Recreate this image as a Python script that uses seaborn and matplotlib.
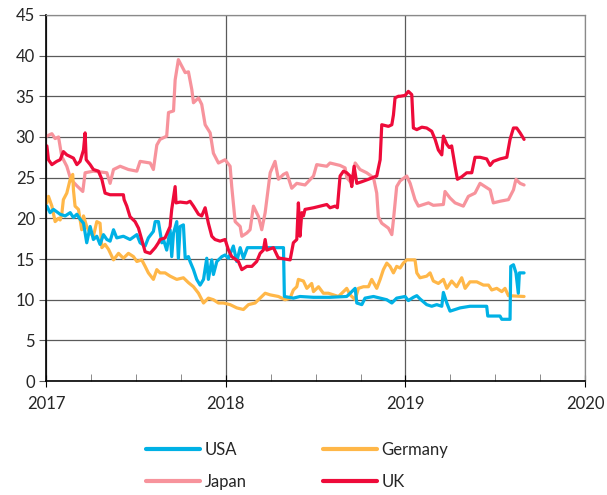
#!/usr/bin/env python3
# -*- coding: utf-8 -*-
import numpy as np
import pandas as pd
import seaborn as sns
import matplotlib
matplotlib.use('Agg')
import matplotlib.pyplot as plt
from matplotlib.ticker import MultipleLocator
from matplotlib.lines import Line2D

#------------------------------------------------------------------------------
# Data (time in decimal years)
#------------------------------------------------------------------------------
usa_t = [2017.004, 2017.022, 2017.041, 2017.078, 2017.106, 2017.134, 2017.152, 2017.171, 2017.189, 2017.208,
         2017.226, 2017.245, 2017.263, 2017.282, 2017.300, 2017.319, 2017.338, 2017.356, 2017.375, 2017.393,
         2017.430, 2017.467, 2017.505, 2017.523, 2017.551, 2017.569, 2017.597, 2017.607, 2017.625, 2017.644,
         2017.653, 2017.671, 2017.690, 2017.699, 2017.709, 2017.727, 2017.736, 2017.746, 2017.764, 2017.774,
         2017.792, 2017.801, 2017.820, 2017.838, 2017.857, 2017.876, 2017.894, 2017.903, 2017.922, 2017.931,
         2017.950, 2017.978, 2017.996, 2018.015, 2018.042, 2018.061, 2018.080, 2018.098, 2018.120, 2018.321,
         2018.326, 2018.376, 2018.413, 2018.488, 2018.580, 2018.673, 2018.720, 2018.729, 2018.757, 2018.775,
         2018.822, 2018.859, 2018.896, 2018.924, 2018.951, 2018.998, 2019.016, 2019.044, 2019.063, 2019.081,
         2019.118, 2019.146, 2019.174, 2019.202, 2019.211, 2019.230, 2019.248, 2019.276, 2019.304, 2019.359,
         2019.452, 2019.458, 2019.526, 2019.536, 2019.582, 2019.586, 2019.601, 2019.615, 2019.628, 2019.634,
         2019.660]
usa_v = [21.5, 20.7, 21.1, 20.5, 20.3, 20.7, 20.1, 20.5, 19.9, 19.4,
         17.0, 19.0, 17.4, 17.8, 16.8, 18.0, 17.4, 17.2, 18.6, 17.6,
         17.8, 17.4, 18.0, 17.0, 16.6, 17.6, 18.4, 19.6, 19.6, 17.0,
         17.4, 16.1, 18.6, 15.3, 18.2, 19.6, 15.1, 19.0, 19.2, 15.1,
         15.3, 14.7, 13.7, 12.5, 11.8, 12.5, 15.1, 12.5, 14.9, 13.1,
         14.7, 15.3, 15.5, 15.1, 16.6, 14.7, 16.4, 15.1, 16.4, 16.4,
         10.4, 10.2, 10.4, 10.3, 10.3, 10.4, 11.4, 9.6, 9.4, 10.2,
         10.4, 10.2, 10.0, 9.6, 10.2, 10.4, 9.9, 10.3, 10.5, 10.1,
         9.4, 9.2, 9.4, 9.2, 10.9, 9.6, 8.6, 8.8, 9.0, 9.2,
         9.2, 8.0, 8.0, 7.6, 7.6, 14.1, 14.3, 13.3, 10.8, 13.3,
         13.3]

germany_t = [2017.004, 2017.013, 2017.032, 2017.050, 2017.069, 2017.078, 2017.087, 2017.096, 2017.115, 2017.134,
             2017.148, 2017.152, 2017.161, 2017.180, 2017.198, 2017.208, 2017.226, 2017.245, 2017.263, 2017.282,
             2017.300, 2017.310, 2017.328, 2017.347, 2017.375, 2017.403, 2017.430, 2017.458, 2017.486, 2017.505,
             2017.532, 2017.551, 2017.569, 2017.597, 2017.616, 2017.634, 2017.662, 2017.690, 2017.727, 2017.764,
             2017.792, 2017.820, 2017.848, 2017.876, 2017.903, 2017.931, 2017.959, 2017.987, 2018.024, 2018.061,
             2018.098, 2018.126, 2018.163, 2018.191, 2018.219, 2018.247, 2018.293, 2018.330, 2018.358, 2018.376,
             2018.395, 2018.404, 2018.432, 2018.451, 2018.478, 2018.488, 2018.516, 2018.543, 2018.571, 2018.599,
             2018.627, 2018.655, 2018.673, 2018.692, 2018.720, 2018.738, 2018.766, 2018.794, 2018.812, 2018.840,
             2018.859, 2018.877, 2018.896, 2018.914, 2018.933, 2018.951, 2018.970, 2018.988, 2019.007, 2019.053,
             2019.063, 2019.081, 2019.118, 2019.137, 2019.155, 2019.183, 2019.211, 2019.230, 2019.257, 2019.285,
             2019.313, 2019.332, 2019.359, 2019.397, 2019.434, 2019.462, 2019.480, 2019.508, 2019.536, 2019.554,
             2019.573, 2019.660]
germany_v = [21.9, 22.7, 21.5, 19.6, 20.0, 19.8, 20.5, 22.3, 23.1, 24.8,
             25.4, 23.5, 21.5, 21.1, 18.6, 20.3, 19.0, 18.2, 17.8, 19.6,
             19.4, 16.4, 16.8, 16.2, 14.9, 15.7, 15.1, 15.7, 15.3, 14.7,
             14.9, 14.1, 13.3, 12.5, 13.7, 13.3, 13.3, 12.9, 12.5, 12.7,
             12.1, 11.6, 10.8, 9.6, 10.2, 10.0, 9.6, 9.6, 9.4, 9.0,
             8.8, 9.4, 9.6, 10.2, 10.8, 10.6, 10.4, 10.0, 10.2, 11.2,
             11.6, 12.5, 12.3, 11.4, 12.0, 11.0, 11.6, 10.8, 10.8, 10.6,
             10.4, 11.0, 11.4, 10.6, 10.0, 11.4, 11.6, 11.6, 12.5, 11.4,
             12.5, 13.7, 14.5, 14.1, 13.3, 14.1, 13.9, 14.5, 14.9, 14.9,
             13.3, 12.7, 12.9, 13.3, 12.3, 12.0, 12.5, 11.4, 12.3, 11.6,
             12.7, 11.4, 12.2, 12.2, 11.8, 11.8, 11.2, 11.4, 11.0, 11.4,
             10.5, 10.4]

japan_t = [2017.004, 2017.032, 2017.050, 2017.069, 2017.087, 2017.115, 2017.137, 2017.171, 2017.204, 2017.217,
           2017.263, 2017.338, 2017.356, 2017.375, 2017.412, 2017.458, 2017.505, 2017.523, 2017.579, 2017.597,
           2017.616, 2017.634, 2017.671, 2017.681, 2017.709, 2017.718, 2017.736, 2017.755, 2017.774, 2017.792,
           2017.811, 2017.820, 2017.848, 2017.866, 2017.885, 2017.913, 2017.931, 2017.959, 2017.996, 2018.024,
           2018.033, 2018.052, 2018.080, 2018.089, 2018.117, 2018.135, 2018.154, 2018.182, 2018.200, 2018.219,
           2018.247, 2018.274, 2018.293, 2018.321, 2018.339, 2018.367, 2018.395, 2018.441, 2018.488, 2018.506,
           2018.562, 2018.580, 2018.636, 2018.664, 2018.673, 2018.701, 2018.720, 2018.747, 2018.784, 2018.822,
           2018.840, 2018.849, 2018.868, 2018.905, 2018.924, 2018.933, 2018.951, 2018.970, 2019.007, 2019.026,
           2019.053, 2019.072, 2019.128, 2019.155, 2019.211, 2019.220, 2019.248, 2019.276, 2019.322, 2019.350,
           2019.387, 2019.415, 2019.443, 2019.471, 2019.489, 2019.526, 2019.573, 2019.601, 2019.615, 2019.638,
           2019.660]
japan_v = [30.1, 30.4, 29.8, 30.0, 27.6, 26.4, 24.8, 24.0, 23.3, 25.6,
           25.8, 25.6, 24.3, 26.0, 26.4, 26.0, 25.8, 27.0, 26.8, 26.0,
           29.0, 29.7, 30.1, 33.0, 33.2, 37.0, 39.5, 38.7, 37.9, 38.0,
           35.8, 34.2, 34.8, 34.0, 31.5, 30.5, 28.0, 26.8, 27.2, 26.4,
           23.9, 19.6, 19.0, 17.8, 18.2, 18.6, 21.5, 20.2, 18.6, 20.7,
           25.6, 27.0, 24.8, 25.4, 25.6, 23.7, 24.3, 24.1, 25.2, 26.6,
           26.4, 26.8, 26.5, 26.2, 25.0, 24.3, 26.8, 26.0, 25.6, 25.0,
           23.1, 20.2, 19.4, 18.8, 18.0, 19.8, 23.9, 24.6, 25.2, 24.3,
           22.3, 21.5, 21.9, 21.6, 21.7, 23.3, 22.5, 21.9, 21.5, 22.7,
           23.1, 24.3, 23.9, 23.5, 21.9, 22.1, 22.3, 23.5, 24.8, 24.3,
           24.1]

uk_t = [2017.004, 2017.013, 2017.032, 2017.059, 2017.078, 2017.096, 2017.115, 2017.152, 2017.171, 2017.189,
        2017.208, 2017.217, 2017.223, 2017.245, 2017.263, 2017.291, 2017.310, 2017.328, 2017.356, 2017.430,
        2017.434, 2017.449, 2017.467, 2017.495, 2017.514, 2017.532, 2017.551, 2017.579, 2017.607, 2017.625,
        2017.634, 2017.662, 2017.690, 2017.699, 2017.718, 2017.723, 2017.746, 2017.783, 2017.801, 2017.820,
        2017.848, 2017.866, 2017.885, 2017.903, 2017.922, 2017.940, 2017.968, 2017.996, 2018.015, 2018.033,
        2018.070, 2018.089, 2018.117, 2018.145, 2018.172, 2018.191, 2018.209, 2018.219, 2018.228, 2018.265,
        2018.293, 2018.302, 2018.358, 2018.376, 2018.395, 2018.404, 2018.413, 2018.423, 2018.432, 2018.441,
        2018.488, 2018.525, 2018.562, 2018.580, 2018.608, 2018.621, 2018.636, 2018.655, 2018.673, 2018.692,
        2018.701, 2018.714, 2018.729, 2018.757, 2018.794, 2018.840, 2018.859, 2018.868, 2018.905, 2018.924,
        2018.933, 2018.942, 2018.961, 2018.970, 2018.998, 2019.016, 2019.035, 2019.044, 2019.063, 2019.091,
        2019.118, 2019.146, 2019.165, 2019.183, 2019.202, 2019.211, 2019.230, 2019.244, 2019.257, 2019.276,
        2019.289, 2019.313, 2019.341, 2019.369, 2019.387, 2019.415, 2019.452, 2019.471, 2019.489, 2019.526,
        2019.564, 2019.582, 2019.601, 2019.619, 2019.638, 2019.660]
uk_v = [28.9, 27.2, 26.6, 27.0, 27.2, 28.2, 27.8, 27.4, 26.6, 27.0,
        28.4, 30.5, 27.2, 26.6, 26.0, 25.8, 24.8, 23.1, 22.9, 22.9,
        22.3, 21.5, 20.2, 19.6, 18.8, 17.4, 15.9, 15.7, 16.4, 17.0,
        17.4, 17.6, 19.0, 21.1, 23.9, 21.9, 22.0, 21.9, 22.1, 21.5,
        20.5, 20.3, 21.3, 19.4, 17.8, 17.4, 17.2, 17.4, 16.1, 15.3,
        14.7, 13.7, 14.1, 14.1, 14.7, 15.7, 16.1, 17.4, 16.1, 16.4,
        15.1, 15.1, 14.9, 17.0, 17.4, 21.9, 17.8, 20.7, 20.3, 21.1,
        21.3, 21.5, 21.7, 21.3, 21.5, 21.3, 25.2, 25.8, 25.6, 25.2,
        23.9, 26.4, 24.3, 24.5, 24.8, 25.2, 27.2, 31.5, 31.3, 31.5,
        32.7, 34.8, 35.0, 35.0, 35.1, 35.6, 35.2, 31.1, 30.9, 31.2,
        31.1, 30.7, 29.7, 28.4, 27.8, 30.1, 29.1, 28.7, 28.9, 26.4,
        24.8, 25.1, 25.6, 25.6, 27.5, 27.5, 27.3, 26.5, 27.0, 27.3,
        27.5, 29.7, 31.1, 31.1, 30.5, 29.7]

countries = ['USA', 'Germany', 'Japan', 'UK']
colors = {'USA': '#00B1E5', 'Germany': '#FFB748', 'Japan': '#F7939C', 'UK': '#EE0B3A'}
year_ticks = [2017, 2018, 2019, 2020]

frames = []
for name, t, v in [('USA', usa_t, usa_v), ('Germany', germany_t, germany_v),
                   ('Japan', japan_t, japan_v), ('UK', uk_t, uk_v)]:
    frames.append(pd.DataFrame({'t': t, 'value': v, 'country': name}))
df = pd.concat(frames, ignore_index=True)

#------------------------------------------------------------------------------
# Plot
#------------------------------------------------------------------------------
sns.set_style('white')
plt.rcParams['font.family'] = ['Lato', 'DejaVu Sans']
plt.rcParams['font.size'] = 12

fig = plt.figure(figsize=(6.07, 4.95), dpi=100)
ax = fig.add_axes([0.076, 0.23, 0.888, 0.74])

# draw order: Japan, Germany, USA, UK (UK on top)
for name in ['Japan', 'Germany', 'USA', 'UK']:
    sns.lineplot(data=df[df.country == name], x='t', y='value', color=colors[name],
                 estimator=None, sort=False, linewidth=2.3, ax=ax, legend=False)

ax.set_xlim(2017, 2020)
ax.set_ylim(0, 45)
ax.set_xticks(year_ticks)
ax.set_xticklabels([str(y) for y in year_ticks])
ax.xaxis.set_minor_locator(MultipleLocator(0.25))
ax.yaxis.set_major_locator(MultipleLocator(5))
ax.set_xlabel('')
ax.set_ylabel('')

ax.grid(True, which='major', color='#5a5a5a', linewidth=0.9)
ax.set_axisbelow(True)
for s in ['top', 'right']:
    ax.spines[s].set_color('#8a8a8a')
    ax.spines[s].set_linewidth(0.9)
for s in ['left', 'bottom']:
    ax.spines[s].set_color('black')
    ax.spines[s].set_linewidth(1.2)

ax.tick_params(axis='y', which='major', direction='out', length=5, color='#5a5a5a',
               labelsize=12, pad=3, left=True)
ax.tick_params(axis='x', which='major', direction='inout', length=9, color='black',
               labelsize=12, pad=6, bottom=True)
ax.tick_params(axis='x', which='minor', direction='in', length=5, color='#777777', bottom=True)

handles = [Line2D([], [], color=colors[c], linewidth=3) for c in countries]
# ncol=2 fills column-wise, reorder so rows read USA/Germany, Japan/UK
order = [0, 2, 1, 3]
fig.legend([handles[i] for i in order], [countries[i] for i in order],
           loc='upper center', bbox_to_anchor=(0.49, 0.138), ncol=2, frameon=False,
           fontsize=12, handlelength=3.2, handletextpad=0.3, columnspacing=4.6,
           labelspacing=0.95)

plt.savefig('out.png', dpi=100)
